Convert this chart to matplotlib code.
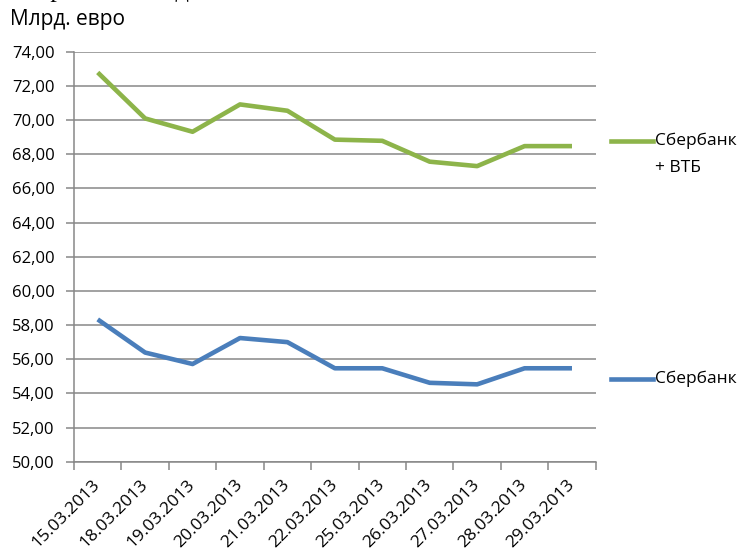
import matplotlib
matplotlib.use("Agg")
import matplotlib.pyplot as plt
from matplotlib.lines import Line2D
from matplotlib.transforms import ScaledTranslation

dates = ["15.03.2013", "18.03.2013", "19.03.2013", "20.03.2013", "21.03.2013",
         "22.03.2013", "25.03.2013", "26.03.2013", "27.03.2013", "28.03.2013",
         "29.03.2013"]
sber_vtb = [72.78, 70.09, 69.31, 70.91, 70.54, 68.85, 68.78, 67.56, 67.30, 68.47, 68.47]
sber = [58.33, 56.39, 55.72, 57.24, 57.00, 55.47, 55.47, 54.62, 54.53, 55.47, 55.47]
yticks = [50 + 2 * i for i in range(13)]

GREEN = "#8db44a"
BLUE = "#4a7ebb"
GRID = "#878787"

plt.rcParams["font.family"] = ["Open Sans", "DejaVu Sans"]

fig = plt.figure(figsize=(7.4, 5.55), dpi=100)
ax = fig.add_axes([0.1, 0.168, 0.705, 0.739])

x = list(range(len(dates)))
ax.plot(x, sber_vtb, color=GREEN, lw=3.3, solid_joinstyle="round", solid_capstyle="butt", zorder=3)
ax.plot(x, sber, color=BLUE, lw=3.3, solid_joinstyle="round", solid_capstyle="butt", zorder=3)

ax.set_xlim(-0.5, len(dates) - 0.5)
ax.set_ylim(50, 74)
ax.set_yticks(yticks)
ax.set_yticklabels([f"{v:.2f}".replace(".", ",") for v in yticks], fontsize=12)
ax.yaxis.grid(True, color=GRID, lw=1.1)
ax.set_axisbelow(True)

ax.set_xticks([i - 0.5 for i in range(len(dates) + 1)])
ax.set_xticklabels([])
ax.set_xticks(x, minor=True)
ax.set_xticklabels(dates, minor=True, rotation=45, ha="right", va="center",
                   rotation_mode="anchor", fontsize=12.5)
off = ScaledTranslation(4 / 100, 0, fig.dpi_scale_trans)
for lab in ax.get_xticklabels(minor=True):
    lab.set_transform(lab.get_transform() + off)
ax.tick_params(axis="x", which="minor", length=0, pad=15)
ax.tick_params(axis="x", which="major", length=6, color=GRID, width=1.1)
ax.tick_params(axis="y", length=6, color=GRID, width=1.1, pad=8)

for s in ["top", "right"]:
    ax.spines[s].set_visible(False)
for s in ["left", "bottom"]:
    ax.spines[s].set_color(GRID)
    ax.spines[s].set_linewidth(1.1)

fig.text(10 / 740, 1 - 20 / 555, "Млрд. евро", fontsize=15, va="center", ha="left")
fig.text(22 / 740, 1 + 3 / 555, "марта 2013 года.", fontsize=19, va="baseline", ha="left",
         family="Liberation Serif")

# legend entries
def leg(ypix, color, lines):
    y = 1 - ypix / 555
    fig.add_artist(Line2D([611 / 740, 653 / 740], [y, y], color=color, lw=3.3,
                          transform=fig.transFigure))
    fig.text(655 / 740, y, lines[0], fontsize=12.5, va="center", ha="left")
    if len(lines) > 1:
        fig.text(655 / 740, 1 - (ypix + 27) / 555, lines[1], fontsize=12.5, va="center", ha="left")

leg(141, GREEN, ["Сбербанк", "+ ВТБ"])
leg(379, BLUE, ["Сбербанк"])

fig.savefig("out.png", dpi=100)
